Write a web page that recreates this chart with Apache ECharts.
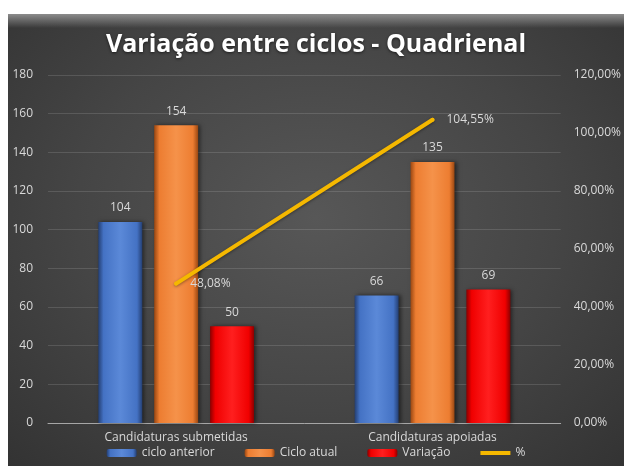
<!DOCTYPE html>
<html>
<head>
<meta charset="utf-8">
<script src="https://cdn.jsdelivr.net/npm/echarts@6/dist/echarts.min.js"></script>
<style>
    html, body { margin: 0; padding: 0; background: #ffffff; }
    #wrap {
        position: absolute; left: 8px; top: 14px; width: 616px; height: 452px;
        background: radial-gradient(ellipse at 50% 45%, #575757 0%, #454545 55%, #333333 100%);
        overflow: hidden;
    }
    #bevel {
        position: absolute; left: 0; top: 0; width: 100%; height: 14px;
        background: linear-gradient(#8c8c8c, rgba(90,90,90,0));
    }
    #chart { position: absolute; left: 0; top: 0; width: 616px; height: 452px; }
</style>
</head>
<body>
<div id="wrap"><div id="bevel"></div><div id="chart"></div></div>
<script>
const categories = ['Candidaturas submetidas', 'Candidaturas apoiadas'];
const cicloAnterior = [104, 66];
const cicloAtual = [154, 135];
const variacao = [50, 69];
const percent = [48.08, 104.55];

let chart = echarts.init(document.getElementById('chart'));

const txt = '#d9d9d9';
const font = 'Open Sans';

// gradiente horizontal para dar o efeito 3D das barras
function barGrad(dark, light, mid) {
    return new echarts.graphic.LinearGradient(0, 0, 1, 0, [
        { offset: 0, color: dark },
        { offset: 0.12, color: light },
        { offset: 0.5, color: mid },
        { offset: 0.88, color: light },
        { offset: 1, color: dark }
    ]);
}

function fmtPct(v) {
    return v.toFixed(2).replace('.', ',') + '%';
}

const barLabel = {
    show: true,
    position: 'top',
    distance: 8,
    color: txt,
    fontSize: 12,
    fontFamily: font
};

const option = {
    backgroundColor: 'transparent',
    title: {
        text: 'Variação entre ciclos - Quadrienal',
        left: 'center',
        top: 18,
        padding: 0,
        textStyle: {
            color: '#ffffff',
            fontSize: 25,
            fontWeight: 'bold',
            fontFamily: font,
            textShadowColor: 'rgba(0,0,0,0.6)',
            textShadowBlur: 3,
            textShadowOffsetY: 1
        }
    },
    legend: {
        bottom: 2,
        left: 'center',
        itemWidth: 30,
        itemHeight: 8,
        itemGap: 30,
        textStyle: { color: txt, fontSize: 12, fontFamily: font },
        data: [
            'ciclo anterior', 'Ciclo atual', 'Variação',
            { name: '%', icon: 'path://M0,0 L30,0 L30,4 L0,4 Z' }
        ]
    },
    grid: {
        left: 40,
        right: 62,
        top: 61,
        bottom: 43
    },
    xAxis: {
        type: 'category',
        data: categories,
        axisLine: { lineStyle: { color: '#a6a6a6', width: 1 } },
        axisTick: { show: false },
        axisLabel: { color: txt, fontSize: 12, fontFamily: font, margin: 9 }
    },
    yAxis: [
        {
            type: 'value',
            min: 0,
            max: 180,
            interval: 20,
            axisLine: { show: false },
            axisTick: { show: false },
            axisLabel: { color: txt, fontSize: 12, fontFamily: font, margin: 15 },
            splitLine: { lineStyle: { color: 'rgba(255,255,255,0.13)', width: 1 } }
        },
        {
            type: 'value',
            min: 0,
            max: 120,
            interval: 20,
            axisLine: { show: false },
            axisTick: { show: false },
            splitLine: { show: false },
            axisLabel: {
                color: txt, fontSize: 12, fontFamily: font, margin: 13,
                formatter: v => fmtPct(v)
            }
        }
    ],
    series: [
        {
            name: 'ciclo anterior',
            type: 'bar',
            barWidth: 44,
            barGap: '27%',
            itemStyle: {
                color: barGrad('#243f73', '#4472c4', '#5b89d8'),
                shadowColor: 'rgba(0,0,0,0.5)', shadowBlur: 4, shadowOffsetX: 2
            },
            label: barLabel,
            data: cicloAnterior
        },
        {
            name: 'Ciclo atual',
            type: 'bar',
            barWidth: 44,
            itemStyle: {
                color: barGrad('#9a4712', '#ed7d31', '#f5924a'),
                shadowColor: 'rgba(0,0,0,0.5)', shadowBlur: 4, shadowOffsetX: 2
            },
            label: barLabel,
            data: cicloAtual
        },
        {
            name: 'Variação',
            type: 'bar',
            barWidth: 44,
            itemStyle: {
                color: barGrad('#8c0000', '#f00000', '#ff1f1f'),
                shadowColor: 'rgba(0,0,0,0.5)', shadowBlur: 4, shadowOffsetX: 2
            },
            label: barLabel,
            data: variacao
        },
        {
            name: '%',
            type: 'line',
            yAxisIndex: 1,
            symbol: 'circle',
            symbolSize: 4,
            itemStyle: { color: '#f5b800' },
            lineStyle: {
                color: '#f5b800', width: 4, cap: 'round',
                shadowColor: 'rgba(0,0,0,0.4)', shadowBlur: 3, shadowOffsetY: 1
            },
            label: {
                show: true,
                position: 'right',
                distance: 12,
                color: txt,
                fontSize: 12,
                fontFamily: font,
                formatter: p => fmtPct(p.value)
            },
            z: 5,
            data: percent
        }
    ]
};

chart.setOption(option);
</script>
</body>
</html>
